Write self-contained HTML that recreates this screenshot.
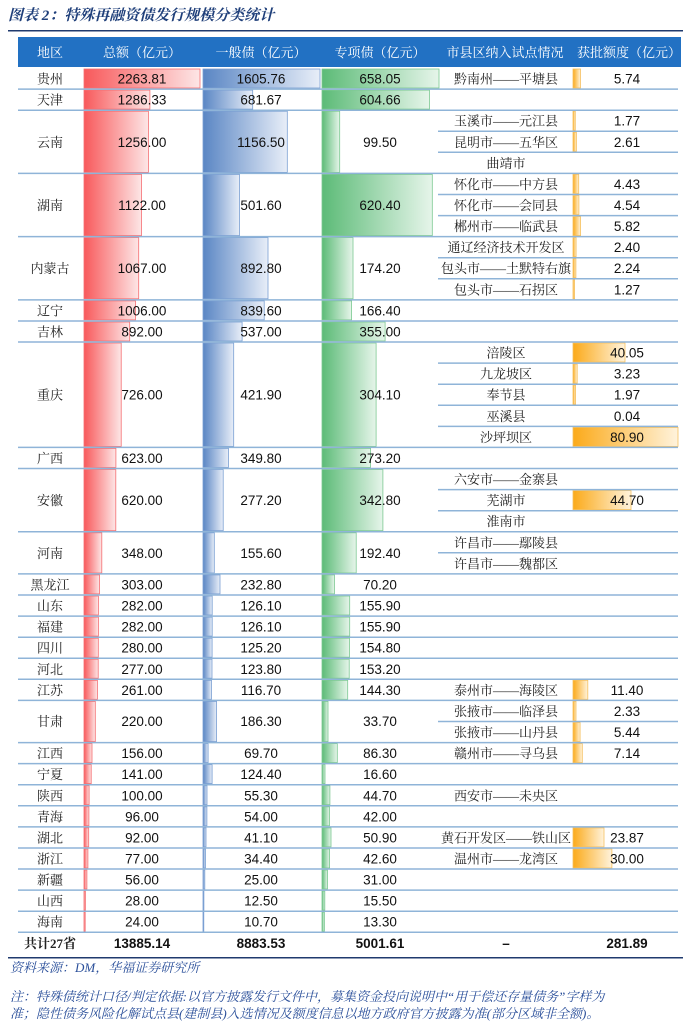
<!DOCTYPE html>
<html><head><meta charset="utf-8"><style>
html,body{margin:0;padding:0;background:#fff;}
svg{display:block;}
.c{font-family:"Liberation Serif","Noto Serif CJK SC",serif;font-size:13px;fill:#222;text-anchor:middle;}
.n{font-family:"Liberation Sans Narrow","Liberation Sans",sans-serif;font-size:13.5px;fill:#111;text-anchor:middle;}
.h{font-family:"Liberation Serif","Noto Serif CJK SC",serif;font-size:13px;fill:#fff;text-anchor:middle;}
.b{font-weight:bold;}
.f{font-family:"Liberation Serif","Noto Serif CJK SC",serif;font-size:13px;fill:#2a4f9a;font-style:italic;}
</style></head><body>
<svg width="693" height="1030" viewBox="0 0 693 1030" xmlns="http://www.w3.org/2000/svg">
<defs>
<linearGradient id="gr"><stop offset="0" stop-color="#f8595b"/><stop offset="1" stop-color="#fde6e6"/></linearGradient>
<linearGradient id="gb"><stop offset="0" stop-color="#5a86c4"/><stop offset="1" stop-color="#e8eef8"/></linearGradient>
<linearGradient id="gg"><stop offset="0" stop-color="#5cbb77"/><stop offset="1" stop-color="#e6f5ea"/></linearGradient>
<linearGradient id="go"><stop offset="0" stop-color="#fbaa1a"/><stop offset="1" stop-color="#fff3dc"/></linearGradient>
</defs>
<text x="8" y="20" font-family="Liberation Serif,'Noto Serif CJK SC',serif" font-size="15" font-weight="bold" font-style="italic" fill="#1f3f7a">图表 2：特殊再融资债发行规模分类统计</text>
<rect x="8" y="30" width="675" height="1.5" fill="#1f3a6e"/>
<rect x="18" y="37" width="663" height="30" fill="#2271c3"/>
<g class="h"><text x="50" y="57">地区</text><text x="142" y="57">总额（亿元）</text><text x="261" y="57">一般债（亿元）</text><text x="380" y="57">专项债（亿元）</text><text x="505" y="57">市县区纳入试点情况</text><text x="629" y="57">获批额度（亿元）</text></g>

<g fill="url(#gr)" stroke="#f56f72" stroke-width="0.8">
<rect x="84" y="69" width="116" height="19"/>
<rect x="84" y="90.1" width="65.9" height="19"/>
<rect x="84" y="111.2" width="64.4" height="61.2"/>
<rect x="84" y="174.4" width="57.5" height="61.2"/>
<rect x="84" y="237.6" width="54.7" height="61.2"/>
<rect x="84" y="300.9" width="51.5" height="19"/>
<rect x="84" y="322" width="45.7" height="19"/>
<rect x="84" y="343" width="37.2" height="103.4"/>
<rect x="84" y="448.4" width="31.9" height="19"/>
<rect x="84" y="469.5" width="31.8" height="61.2"/>
<rect x="84" y="532.8" width="17.8" height="40.2"/>
<rect x="84" y="574.9" width="15.5" height="19"/>
<rect x="84" y="596" width="14.4" height="19"/>
<rect x="84" y="617.1" width="14.4" height="19"/>
<rect x="84" y="638.2" width="14.3" height="19"/>
<rect x="84" y="659.2" width="14.2" height="19"/>
<rect x="84" y="680.3" width="13.4" height="19"/>
<rect x="84" y="701.4" width="11.3" height="40.2"/>
<rect x="84" y="743.6" width="8" height="19"/>
<rect x="84" y="764.6" width="7.2" height="19"/>
<rect x="84" y="785.7" width="5.1" height="19"/>
<rect x="84" y="806.8" width="4.9" height="19"/>
<rect x="84" y="827.9" width="4.7" height="19"/>
<rect x="84" y="849" width="3.9" height="19"/>
<rect x="84" y="870" width="2.9" height="19"/>
<rect x="84" y="891.1" width="1.4" height="19"/>
<rect x="84" y="912.2" width="1.2" height="19"/>
</g>
<g fill="url(#gb)" stroke="#7a9fd3" stroke-width="0.8">
<rect x="203" y="69" width="117" height="19"/>
<rect x="203" y="90.1" width="49.7" height="19"/>
<rect x="203" y="111.2" width="84.3" height="61.2"/>
<rect x="203" y="174.4" width="36.5" height="61.2"/>
<rect x="203" y="237.6" width="65" height="61.2"/>
<rect x="203" y="300.9" width="61.2" height="19"/>
<rect x="203" y="322" width="39.1" height="19"/>
<rect x="203" y="343" width="30.7" height="103.4"/>
<rect x="203" y="448.4" width="25.5" height="19"/>
<rect x="203" y="469.5" width="20.2" height="61.2"/>
<rect x="203" y="532.8" width="11.3" height="40.2"/>
<rect x="203" y="574.9" width="17" height="19"/>
<rect x="203" y="596" width="9.2" height="19"/>
<rect x="203" y="617.1" width="9.2" height="19"/>
<rect x="203" y="638.2" width="9.1" height="19"/>
<rect x="203" y="659.2" width="9" height="19"/>
<rect x="203" y="680.3" width="8.5" height="19"/>
<rect x="203" y="701.4" width="13.6" height="40.2"/>
<rect x="203" y="743.6" width="5.1" height="19"/>
<rect x="203" y="764.6" width="9.1" height="19"/>
<rect x="203" y="785.7" width="4" height="19"/>
<rect x="203" y="806.8" width="3.9" height="19"/>
<rect x="203" y="827.9" width="3" height="19"/>
<rect x="203" y="849" width="2.5" height="19"/>
<rect x="203" y="870" width="1.8" height="19"/>
<rect x="203" y="891.1" width="0.9" height="19"/>
<rect x="203" y="912.2" width="0.8" height="19"/>
</g>
<g fill="url(#gg)" stroke="#7cc992" stroke-width="0.8">
<rect x="322" y="69" width="117" height="19"/>
<rect x="322" y="90.1" width="107.5" height="19"/>
<rect x="322" y="111.2" width="17.7" height="61.2"/>
<rect x="322" y="174.4" width="110.3" height="61.2"/>
<rect x="322" y="237.6" width="31" height="61.2"/>
<rect x="322" y="300.9" width="29.6" height="19"/>
<rect x="322" y="322" width="63.1" height="19"/>
<rect x="322" y="343" width="54.1" height="103.4"/>
<rect x="322" y="448.4" width="48.6" height="19"/>
<rect x="322" y="469.5" width="60.9" height="61.2"/>
<rect x="322" y="532.8" width="34.2" height="40.2"/>
<rect x="322" y="574.9" width="12.5" height="19"/>
<rect x="322" y="596" width="27.7" height="19"/>
<rect x="322" y="617.1" width="27.7" height="19"/>
<rect x="322" y="638.2" width="27.5" height="19"/>
<rect x="322" y="659.2" width="27.2" height="19"/>
<rect x="322" y="680.3" width="25.7" height="19"/>
<rect x="322" y="701.4" width="6" height="40.2"/>
<rect x="322" y="743.6" width="15.3" height="19"/>
<rect x="322" y="764.6" width="3" height="19"/>
<rect x="322" y="785.7" width="7.9" height="19"/>
<rect x="322" y="806.8" width="7.5" height="19"/>
<rect x="322" y="827.9" width="9" height="19"/>
<rect x="322" y="849" width="7.6" height="19"/>
<rect x="322" y="870" width="5.5" height="19"/>
<rect x="322" y="891.1" width="2.8" height="19"/>
<rect x="322" y="912.2" width="2.4" height="19"/>
</g>
<g fill="url(#go)" stroke="#f5c060" stroke-width="0.8">
<rect x="573" y="69" width="7.5" height="19"/>
<rect x="573" y="111.2" width="2.3" height="19"/>
<rect x="573" y="132.3" width="3.4" height="19"/>
<rect x="573" y="174.4" width="5.7" height="19"/>
<rect x="573" y="195.5" width="5.9" height="19"/>
<rect x="573" y="216.6" width="7.6" height="19"/>
<rect x="573" y="237.6" width="3.1" height="19"/>
<rect x="573" y="258.7" width="2.9" height="19"/>
<rect x="573" y="279.8" width="1.6" height="19"/>
<rect x="573" y="343" width="52" height="19"/>
<rect x="573" y="364.1" width="4.2" height="19"/>
<rect x="573" y="385.2" width="2.6" height="19"/>
<rect x="573" y="427.4" width="105" height="19"/>
<rect x="573" y="490.6" width="58" height="19"/>
<rect x="573" y="680.3" width="14.8" height="19"/>
<rect x="573" y="701.4" width="3" height="19"/>
<rect x="573" y="722.5" width="7.1" height="19"/>
<rect x="573" y="743.6" width="9.3" height="19"/>
<rect x="573" y="827.9" width="31" height="19"/>
<rect x="573" y="849" width="38.9" height="19"/>
</g>

<g stroke="#8fb4d8" stroke-width="1.5">
<line x1="18" x2="678" y1="89.1" y2="89.1"/><line x1="18" x2="678" y1="110.2" y2="110.2"/>
<line x1="18" x2="678" y1="173.4" y2="173.4"/><line x1="18" x2="678" y1="236.6" y2="236.6"/>
<line x1="18" x2="678" y1="299.9" y2="299.9"/><line x1="18" x2="678" y1="321" y2="321"/>
<line x1="18" x2="678" y1="342" y2="342"/><line x1="18" x2="678" y1="447.4" y2="447.4"/>
<line x1="18" x2="678" y1="468.5" y2="468.5"/><line x1="18" x2="678" y1="531.8" y2="531.8"/>
<line x1="18" x2="678" y1="573.9" y2="573.9"/><line x1="18" x2="678" y1="595" y2="595"/>
<line x1="18" x2="678" y1="616.1" y2="616.1"/><line x1="18" x2="678" y1="637.2" y2="637.2"/>
<line x1="18" x2="678" y1="658.2" y2="658.2"/><line x1="18" x2="678" y1="679.3" y2="679.3"/>
<line x1="18" x2="678" y1="700.4" y2="700.4"/><line x1="18" x2="678" y1="742.6" y2="742.6"/>
<line x1="18" x2="678" y1="763.6" y2="763.6"/><line x1="18" x2="678" y1="784.7" y2="784.7"/>
<line x1="18" x2="678" y1="805.8" y2="805.8"/><line x1="18" x2="678" y1="826.9" y2="826.9"/>
<line x1="18" x2="678" y1="848" y2="848"/><line x1="18" x2="678" y1="869" y2="869"/>
<line x1="18" x2="678" y1="890.1" y2="890.1"/><line x1="18" x2="678" y1="911.2" y2="911.2"/>
<line x1="18" x2="678" y1="932.3" y2="932.3"/>
<line x1="438" x2="678" y1="131.2" y2="131.2"/><line x1="438" x2="678" y1="152.3" y2="152.3"/>
<line x1="438" x2="678" y1="194.5" y2="194.5"/><line x1="438" x2="678" y1="215.6" y2="215.6"/>
<line x1="438" x2="678" y1="257.7" y2="257.7"/><line x1="438" x2="678" y1="278.8" y2="278.8"/>
<line x1="438" x2="678" y1="363.1" y2="363.1"/><line x1="438" x2="678" y1="384.2" y2="384.2"/>
<line x1="438" x2="678" y1="405.3" y2="405.3"/><line x1="438" x2="678" y1="426.4" y2="426.4"/>
<line x1="438" x2="678" y1="489.6" y2="489.6"/><line x1="438" x2="678" y1="510.7" y2="510.7"/>
<line x1="438" x2="678" y1="552.8" y2="552.8"/><line x1="438" x2="678" y1="721.5" y2="721.5"/>
</g>
<rect x="8" y="957" width="675" height="1.5" fill="#1f3a6e"/>

<g class="c">
<text x="50" y="83.5">贵州</text><text x="50" y="104.6">天津</text><text x="50" y="146.8">云南</text>
<text x="50" y="210">湖南</text><text x="50" y="273.2">内蒙古</text><text x="50" y="315.4">辽宁</text>
<text x="50" y="336.5">吉林</text><text x="50" y="399.7">重庆</text><text x="50" y="462.9">广西</text>
<text x="50" y="505.1">安徽</text><text x="50" y="557.8">河南</text><text x="50" y="589.5">黑龙江</text>
<text x="50" y="610.5">山东</text><text x="50" y="631.6">福建</text><text x="50" y="652.7">四川</text>
<text x="50" y="673.8">河北</text><text x="50" y="694.9">江苏</text><text x="50" y="726">甘肃</text>
<text x="50" y="758.1">江西</text><text x="50" y="779.2">宁夏</text><text x="50" y="800.3">陕西</text>
<text x="50" y="821.3">青海</text><text x="50" y="842.4">湖北</text><text x="50" y="863.5">浙江</text>
<text x="50" y="884.6">新疆</text><text x="50" y="905.7">山西</text><text x="50" y="926.7">海南</text>
</g>
<g class="c">
<text x="506" y="83.5">黔南州——平塘县</text>
<text x="506" y="125.7">玉溪市——元江县</text><text x="506" y="146.8">昆明市——五华区</text><text x="506" y="167.9">曲靖市</text>
<text x="506" y="188.9">怀化市——中方县</text><text x="506" y="210">怀化市——会同县</text><text x="506" y="231.1">郴州市——临武县</text>
<text x="506" y="252.2">通辽经济技术开发区</text><text x="506" y="273.2">包头市——土默特右旗</text><text x="506" y="294.3">包头市——石拐区</text>
<text x="506" y="357.6">涪陵区</text><text x="506" y="378.7">九龙坡区</text><text x="506" y="399.7">奉节县</text><text x="506" y="420.8">巫溪县</text><text x="506" y="441.9">沙坪坝区</text>
<text x="506" y="484">六安市——金寨县</text><text x="506" y="505.1">芜湖市</text><text x="506" y="526.2">淮南市</text>
<text x="506" y="547.3">许昌市——鄢陵县</text><text x="506" y="568.3">许昌市——魏都区</text>
<text x="506" y="694.9">泰州市——海陵区</text><text x="506" y="716">张掖市——临泽县</text><text x="506" y="737">张掖市——山丹县</text>
<text x="506" y="758.1">赣州市——寻乌县</text><text x="506" y="800.3">西安市——未央区</text>
<text x="506" y="842.4">黄石开发区——铁山区</text><text x="506" y="863.5">温州市——龙湾区</text>
</g>
<g class="n">
<text x="142" y="83.5">2263.81</text><text x="261" y="83.5">1605.76</text><text x="380" y="83.5">658.05</text><text x="627" y="83.5">5.74</text>
<text x="142" y="104.6">1286.33</text><text x="261" y="104.6">681.67</text><text x="380" y="104.6">604.66</text>
<text x="142" y="146.8">1256.00</text><text x="261" y="146.8">1156.50</text><text x="380" y="146.8">99.50</text>
<text x="627" y="125.7">1.77</text><text x="627" y="146.8">2.61</text>
<text x="142" y="210">1122.00</text><text x="261" y="210">501.60</text><text x="380" y="210">620.40</text>
<text x="627" y="188.9">4.43</text><text x="627" y="210">4.54</text><text x="627" y="231.1">5.82</text>
<text x="142" y="273.2">1067.00</text><text x="261" y="273.2">892.80</text><text x="380" y="273.2">174.20</text>
<text x="627" y="252.2">2.40</text><text x="627" y="273.2">2.24</text><text x="627" y="294.3">1.27</text>
<text x="142" y="315.4">1006.00</text><text x="261" y="315.4">839.60</text><text x="380" y="315.4">166.40</text>
<text x="142" y="336.5">892.00</text><text x="261" y="336.5">537.00</text><text x="380" y="336.5">355.00</text>
<text x="142" y="399.7">726.00</text><text x="261" y="399.7">421.90</text><text x="380" y="399.7">304.10</text>
<text x="627" y="357.6">40.05</text><text x="627" y="378.7">3.23</text><text x="627" y="399.7">1.97</text><text x="627" y="420.8">0.04</text><text x="627" y="441.9">80.90</text>
<text x="142" y="462.9">623.00</text><text x="261" y="462.9">349.80</text><text x="380" y="462.9">273.20</text>
<text x="142" y="505.1">620.00</text><text x="261" y="505.1">277.20</text><text x="380" y="505.1">342.80</text><text x="627" y="505.1">44.70</text>
<text x="142" y="557.8">348.00</text><text x="261" y="557.8">155.60</text><text x="380" y="557.8">192.40</text>
<text x="142" y="589.5">303.00</text><text x="261" y="589.5">232.80</text><text x="380" y="589.5">70.20</text>
<text x="142" y="610.5">282.00</text><text x="261" y="610.5">126.10</text><text x="380" y="610.5">155.90</text>
<text x="142" y="631.6">282.00</text><text x="261" y="631.6">126.10</text><text x="380" y="631.6">155.90</text>
<text x="142" y="652.7">280.00</text><text x="261" y="652.7">125.20</text><text x="380" y="652.7">154.80</text>
<text x="142" y="673.8">277.00</text><text x="261" y="673.8">123.80</text><text x="380" y="673.8">153.20</text>
<text x="142" y="694.9">261.00</text><text x="261" y="694.9">116.70</text><text x="380" y="694.9">144.30</text><text x="627" y="694.9">11.40</text>
<text x="142" y="726">220.00</text><text x="261" y="726">186.30</text><text x="380" y="726">33.70</text>
<text x="627" y="716">2.33</text><text x="627" y="737">5.44</text>
<text x="142" y="758.1">156.00</text><text x="261" y="758.1">69.70</text><text x="380" y="758.1">86.30</text><text x="627" y="758.1">7.14</text>
<text x="142" y="779.2">141.00</text><text x="261" y="779.2">124.40</text><text x="380" y="779.2">16.60</text>
<text x="142" y="800.3">100.00</text><text x="261" y="800.3">55.30</text><text x="380" y="800.3">44.70</text>
<text x="142" y="821.3">96.00</text><text x="261" y="821.3">54.00</text><text x="380" y="821.3">42.00</text>
<text x="142" y="842.4">92.00</text><text x="261" y="842.4">41.10</text><text x="380" y="842.4">50.90</text><text x="627" y="842.4">23.87</text>
<text x="142" y="863.5">77.00</text><text x="261" y="863.5">34.40</text><text x="380" y="863.5">42.60</text><text x="627" y="863.5">30.00</text>
<text x="142" y="884.6">56.00</text><text x="261" y="884.6">25.00</text><text x="380" y="884.6">31.00</text>
<text x="142" y="905.7">28.00</text><text x="261" y="905.7">12.50</text><text x="380" y="905.7">15.50</text>
<text x="142" y="926.7">24.00</text><text x="261" y="926.7">10.70</text><text x="380" y="926.7">13.30</text>
</g>
<text class="c b" x="50" y="948">共计27省</text>
<g class="n b">
<text x="142" y="948">13885.14</text><text x="261" y="948">8883.53</text><text x="380" y="948">5001.61</text>
<text x="506" y="948">–</text><text x="627" y="948">281.89</text>
</g>
<text class="f" x="10" y="972">资料来源：DM，华福证券研究所</text>
<text class="f" x="10" y="1001">注：特殊债统计口径/判定依据:以官方披露发行文件中，募集资金投向说明中“用于偿还存量债务”字样为</text>
<text class="f" x="10" y="1018">准；隐性债务风险化解试点县(建制县)入选情况及额度信息以地方政府官方披露为准(部分区域非全额)。</text>
</svg>
</body></html>
